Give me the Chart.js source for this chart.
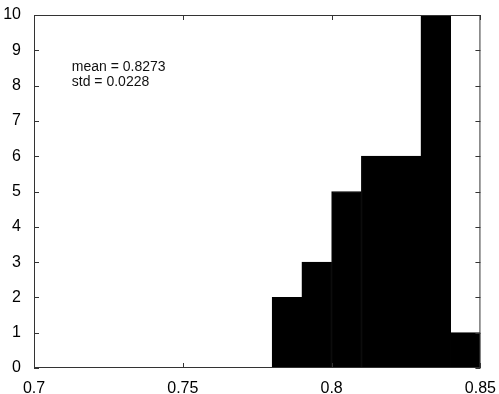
<!DOCTYPE html>
<html>
<head>
<meta charset="utf-8">
<script src="https://cdn.jsdelivr.net/npm/chart.js@4/dist/chart.umd.min.js"></script>
<style>
  html, body { margin: 0; padding: 0; background: #fff; }
  #wrap { width: 499px; height: 394px; }
</style>
</head>
<body>
<div id="wrap"><canvas id="histChart" width="499" height="394"></canvas></div>
<script>
// Histogram bins (centers) and counts
let binCenters = [ 0.785, 0.795, 0.805, 0.815, 0.825, 0.835, 0.845 ];
let binCounts = [ 2, 3, 5, 6, 6, 10, 1 ];
let xTickLabels = [ '0.7', '0.75', '0.8', '0.85' ];
let statLines = [ 'mean = 0.8273', 'std = 0.0228' ];

let font = "'Liberation Sans', Arial, sans-serif";

// Box around the axes with inward ticks, like the old matlab plots
let framePlugin = {
    id: 'frame',
    afterDatasetsDraw ( chart )
    {
        let c = chart.ctx, a = chart.chartArea;
        let xs = chart.scales.x, ys = chart.scales.y;
        c.save();
        c.strokeStyle = '#333';
        c.lineWidth = 1;
        c.strokeRect( a.left + 0.5, a.top + 0.5, a.right - a.left - 1, a.bottom - a.top - 1 );
        c.beginPath();
        xs.ticks.forEach( t =>
        {
            let px = Math.round( xs.getPixelForValue( t.value ) ) + 0.5;
            c.moveTo( px, a.bottom ); c.lineTo( px, a.bottom - 5 );
            c.moveTo( px, a.top ); c.lineTo( px, a.top + 5 );
        } );
        ys.ticks.forEach( t =>
        {
            let py = Math.round( ys.getPixelForValue( t.value ) ) + 0.5;
            c.moveTo( a.left, py ); c.lineTo( a.left + 5, py );
            c.moveTo( a.right, py ); c.lineTo( a.right - 5, py );
        } );
        c.stroke();

        // stats text
        c.fillStyle = '#111';
        c.font = '14px ' + font;
        c.textBaseline = 'middle';
        let tx = xs.getPixelForValue( 0.7127 );
        let ty = ys.getPixelForValue( 8.53 );
        statLines.forEach( ( s, i ) => c.fillText( s, tx, ty + i * 15.5 ) );
        c.restore();
    }
};

let ctx = document.getElementById( 'histChart' ).getContext( '2d' );
let chart = new Chart( ctx, {
    type: 'bar',
    data: {
        datasets: [ {
            data: binCenters.map( ( x, i ) => ( { x: x, y: binCounts[ i ] } ) ),
            backgroundColor: '#000',
            borderColor: '#000',
            borderWidth: 1,
            barPercentage: 1,
            categoryPercentage: 1
        } ]
    },
    options: {
        responsive: false,
        animation: false,
        layout: { padding: { top: 15, right: 17, left: 0, bottom: 0 } },
        plugins: { legend: { display: false }, tooltip: { enabled: false } },
        scales: {
            x: {
                type: 'linear',
                min: 0.7,
                max: 0.85,
                offset: false,
                grid: { display: false },
                border: { display: false },
                afterBuildTicks ( s ) { s.ticks = xTickLabels.map( v => ( { value: parseFloat( v ) } ) ); },
                afterFit ( s ) { s.height = 26; },
                ticks: {
                    color: '#000',
                    padding: 3,
                    maxRotation: 0,
                    font: { family: font, size: 16 },
                    callback: ( v ) => xTickLabels.find( l => parseFloat( l ) === v )
                }
            },
            y: {
                min: 0,
                max: 10,
                grid: { display: false },
                border: { display: false },
                afterFit ( s ) { s.width = 34; },
                ticks: {
                    stepSize: 1,
                    color: '#000',
                    padding: 5,
                    font: { family: font, size: 16 }
                }
            }
        }
    },
    plugins: [ framePlugin ]
} );
</script>
</body>
</html>
